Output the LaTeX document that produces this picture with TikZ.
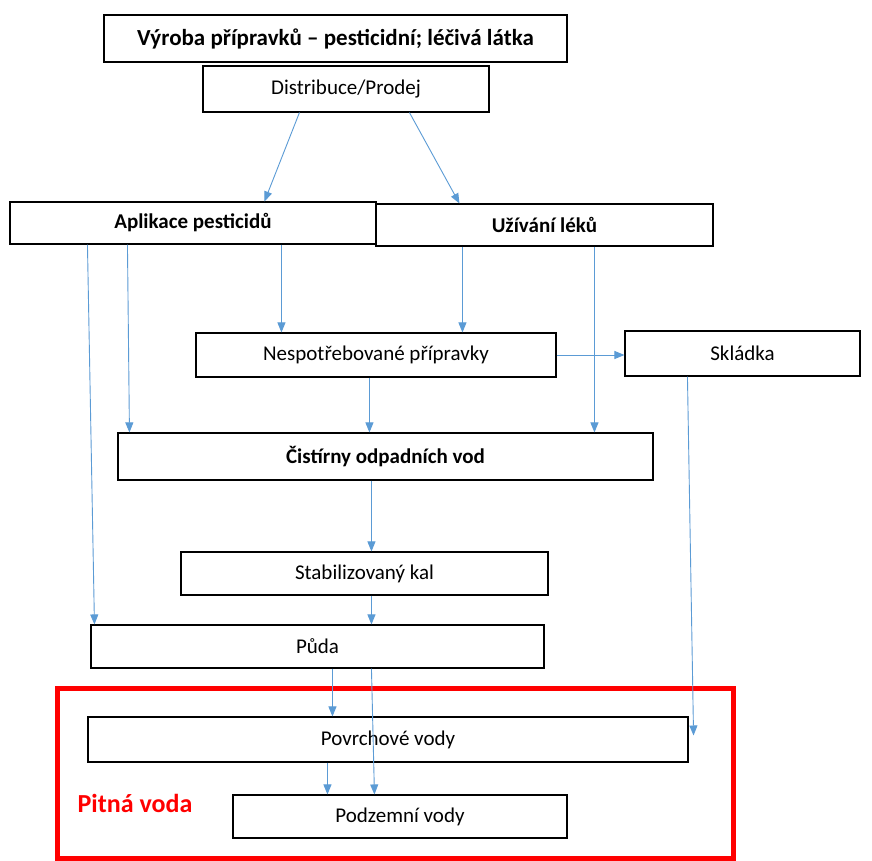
\documentclass[tikz,border=0pt]{standalone}
\usepackage{fontspec}
\setmainfont{Carlito}
\usetikzlibrary{arrows.meta}
\definecolor{arrblue}{RGB}{91,155,213}
\definecolor{redbox}{RGB}{255,0,0}
\tikzset{
  box/.style={draw=black, line width=1.1pt, fill=white, inner sep=0pt, font=\fontsize{21}{24}\selectfont},
  boldbox/.style={box, font=\fontsize{21}{24}\selectfont\bfseries},
  arr/.style={draw=arrblue, line width=0.9pt, -{Triangle[length=10pt,width=8pt]}}
}
\begin{document}
\begin{tikzpicture}[x=1pt,y=-1pt]
\useasboundingbox (0,0) rectangle (872,861);
\fill[white] (0,0) rectangle (872,861);
% red frame
\draw[redbox, line width=5pt] (57,688) rectangle (733,858);
% boxes
\node[boldbox, minimum width=463pt, minimum height=47pt, font=\fontsize{23}{26}\selectfont\bfseries] (v) at (335.5,38.5) {Výroba přípravků – pesticidní; léčivá látka};
\node[box, minimum width=286pt, minimum height=46pt] (d) at (346,89) {Distribuce/Prodej};
\node[boldbox, minimum width=366pt, minimum height=42pt] (a) at (193,223) {Aplikace pesticidů};
\node[boldbox, minimum width=337pt, minimum height=42pt] (u) at (544.5,225) {Užívání léků};
\node[box, minimum width=360pt, minimum height=44pt] (n) at (376,355) {Nespotřebované přípravky};
\node[box, minimum width=235pt, minimum height=45pt] (s) at (742.5,353.5) {Skládka};
\node[boldbox, minimum width=535pt, minimum height=47pt] (c) at (385.5,456.5) {Čistírny odpadních vod};
\node[box, minimum width=367pt, minimum height=43pt] (k) at (364.5,573.5) {Stabilizovaný kal};
\node[box, minimum width=453pt, minimum height=43pt] (p) at (317.5,646.5) {Půda};
\node[box, minimum width=600pt, minimum height=45pt] (pv) at (388,739.5) {Povrchové vody};
\node[box, minimum width=334pt, minimum height=43pt] (pz) at (400,816.5) {Podzemní vody};
\node[text=redbox, font=\fontsize{26}{30}\selectfont\bfseries] (pit) at (135,803) {Pitná voda};
\coordinate (skend) at ([xshift=5pt,yshift=4pt]pv.east);
% arrows
\draw[arr] ([xshift=97pt]d.south west) -- ([xshift=255pt]a.north west);
\draw[arr] ([xshift=207pt]d.south west) -- ([xshift=84pt]u.north west);
\draw[arr] ([xshift=78pt]a.south west) -- ([xshift=4pt]p.north west);
\draw[arr] ([xshift=118pt]a.south west) -- ([xshift=12pt]c.north west);
\draw[arr] ([xshift=272pt]a.south west) -- ([xshift=86pt]n.north west);
\draw[arr] ([xshift=87pt]u.south west) -- ([xshift=267pt]n.north west);
\draw[arr] ([xshift=219pt]u.south west) -- ([xshift=477pt]c.north west);
\draw[arr] ([xshift=174pt]n.south west) -- ([xshift=252pt]c.north west);
\draw[arr] (n.east) -- (n.east -| s.west);
\draw[arr] ([xshift=63pt]s.south west) -- (skend);
\draw[arr] ([xshift=254pt]c.south west) -- ([xshift=191pt]k.north west);
\draw[arr] ([xshift=191pt]k.south west) -- ([xshift=281pt]p.north west);
\draw[arr] ([xshift=242pt]p.south west) -- ([xshift=245pt]pv.north west);
\draw[arr] ([xshift=281pt]p.south west) -- ([xshift=142pt]pz.north west);
\draw[arr] ([xshift=240pt]pv.south west) -- ([xshift=95pt]pz.north west);
\end{tikzpicture}
\end{document}
